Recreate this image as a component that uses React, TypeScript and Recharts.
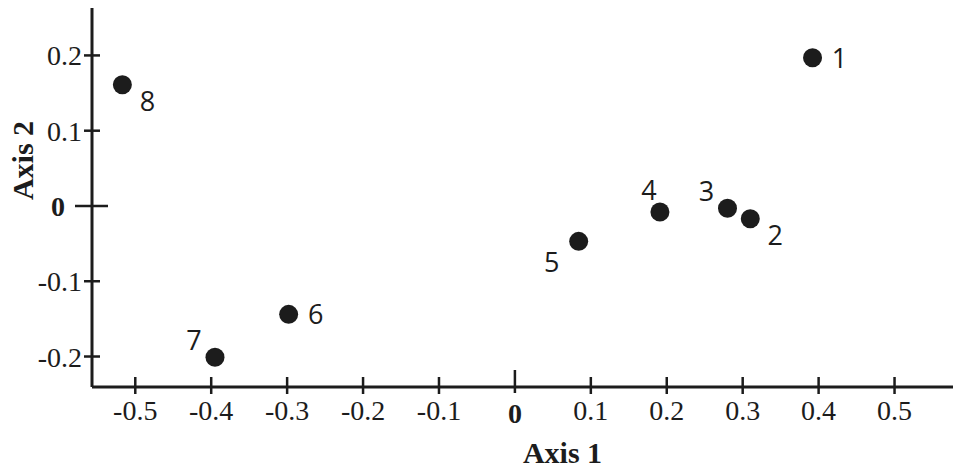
import React from 'react';
import { ScatterChart, Scatter, XAxis, YAxis } from 'recharts';

const pointLabels = ['1', '2', '3', '4', '5', '6', '7', '8'];
const axis1Values = [0.392, 0.31, 0.28, 0.191, 0.084, -0.298, -0.395, -0.517];
const axis2Values = [0.197, -0.017, -0.003, -0.008, -0.047, -0.144, -0.201, 0.161];
const labelPlacement = ['right', 'lowerRight', 'upperLeft', 'above', 'lowerLeft', 'right', 'upperLeft', 'lowerRight'];

const xTicks = [-0.5, -0.4, -0.3, -0.2, -0.1, 0, 0.1, 0.2, 0.3, 0.4, 0.5];
const yTicks = [-0.2, -0.1, 0, 0.1, 0.2];
const xDomain = [-0.557, 0.577];
const yDomain = [-0.2405, 0.263];

const data = pointLabels.map((name, i) => ({
  name,
  x: axis1Values[i],
  y: axis2Values[i],
  place: labelPlacement[i],
}));

const INK = '#1c1c1c';
const SERIF = '"Liberation Serif", "Times New Roman", serif';
const SANS = '"Open Sans", "Noto Sans", sans-serif';

const offsets: Record<string, [number, number]> = {
  right: [27, 0],
  lowerRight: [25, 16],
  upperLeft: [-21, -17],
  above: [-11, -22],
  lowerLeft: [-27, 21],
};

const fmt = (v: number) => (v === 0 ? '0' : String(v));

const YTick = (props: any) => {
  const { x, y, payload } = props;
  const v = payload.value;
  const zero = v === 0;
  return (
    <g>
      <line x1={zero ? x - 17 : x - 8} x2={zero ? x + 16 : x + 8} y1={y} y2={y} stroke={INK} strokeWidth={2.5} />
      <text
        x={zero ? x - 27 : x - 10}
        y={y + 10}
        textAnchor="end"
        fontFamily={SERIF}
        fontSize={28}
        fontWeight={zero ? 'bold' : 'normal'}
        fill={INK}
      >
        {fmt(v)}
      </text>
    </g>
  );
};

const XTick = (props: any) => {
  const { x, y, payload } = props;
  const v = payload.value;
  const zero = v === 0;
  return (
    <g>
      <line x1={x} x2={x} y1={zero ? y - 17 : y - 10} y2={zero ? y + 6 : y + 7} stroke={INK} strokeWidth={2.5} />
      <text
        x={x}
        y={zero ? y + 36 : y + 33}
        textAnchor="middle"
        fontFamily={SERIF}
        fontSize={28}
        fontWeight={zero ? 'bold' : 'normal'}
        fill={INK}
      >
        {fmt(v)}
      </text>
    </g>
  );
};

const Dot = (props: any) => {
  const { cx, cy, payload } = props;
  const [dx, dy] = offsets[payload.place] || [27, 0];
  return (
    <g>
      <circle cx={cx} cy={cy} r={9.5} fill={INK} />
      <text x={cx + dx} y={cy + dy + 10} textAnchor="middle" fontFamily={SANS} fontSize={27} fill={INK}>
        {payload.name}
      </text>
    </g>
  );
};

const XTitle = (props: any) => {
  const { viewBox } = props;
  return (
    <text
      x={viewBox.x + viewBox.width / 2 + 40}
      y={viewBox.y + 76}
      textAnchor="middle"
      fontFamily={SERIF}
      fontSize={30}
      fontWeight="bold"
      fill={INK}
    >
      Axis 1
    </text>
  );
};

const YTitle = (props: any) => {
  const { viewBox } = props;
  const cx = 22;
  const cy = viewBox.y + viewBox.height / 2 - 37;
  return (
    <text
      x={cx}
      y={cy}
      transform={`rotate(-90, ${cx}, ${cy})`}
      textAnchor="middle"
      dominantBaseline="central"
      fontFamily={SERIF}
      fontSize={30}
      fontWeight="bold"
      fill={INK}
    >
      Axis 2
    </text>
  );
};

export default function App() {
  return (
    <div style={{ position: 'absolute', left: 0, top: 0, width: 953, height: 471, background: '#fff' }}>
      <ScatterChart width={953} height={471} margin={{ top: 8, right: 0, bottom: 0, left: 0 }}>
        <XAxis
          type="number"
          dataKey="x"
          domain={xDomain}
          ticks={xTicks}
          allowDataOverflow
          height={84}
          tickSize={0}
          tickMargin={0}
          tickLine={false}
          axisLine={{ stroke: INK, strokeWidth: 3 }}
          tick={<XTick />}
          interval={0}
          label={<XTitle />}
        />
        <YAxis
          type="number"
          dataKey="y"
          domain={yDomain}
          ticks={yTicks}
          allowDataOverflow
          width={92}
          tickSize={0}
          tickMargin={0}
          tickLine={false}
          axisLine={{ stroke: INK, strokeWidth: 3 }}
          tick={<YTick />}
          interval={0}
          label={<YTitle />}
        />
        <Scatter data={data} isAnimationActive={false} shape={<Dot />} />
      </ScatterChart>
    </div>
  );
}
